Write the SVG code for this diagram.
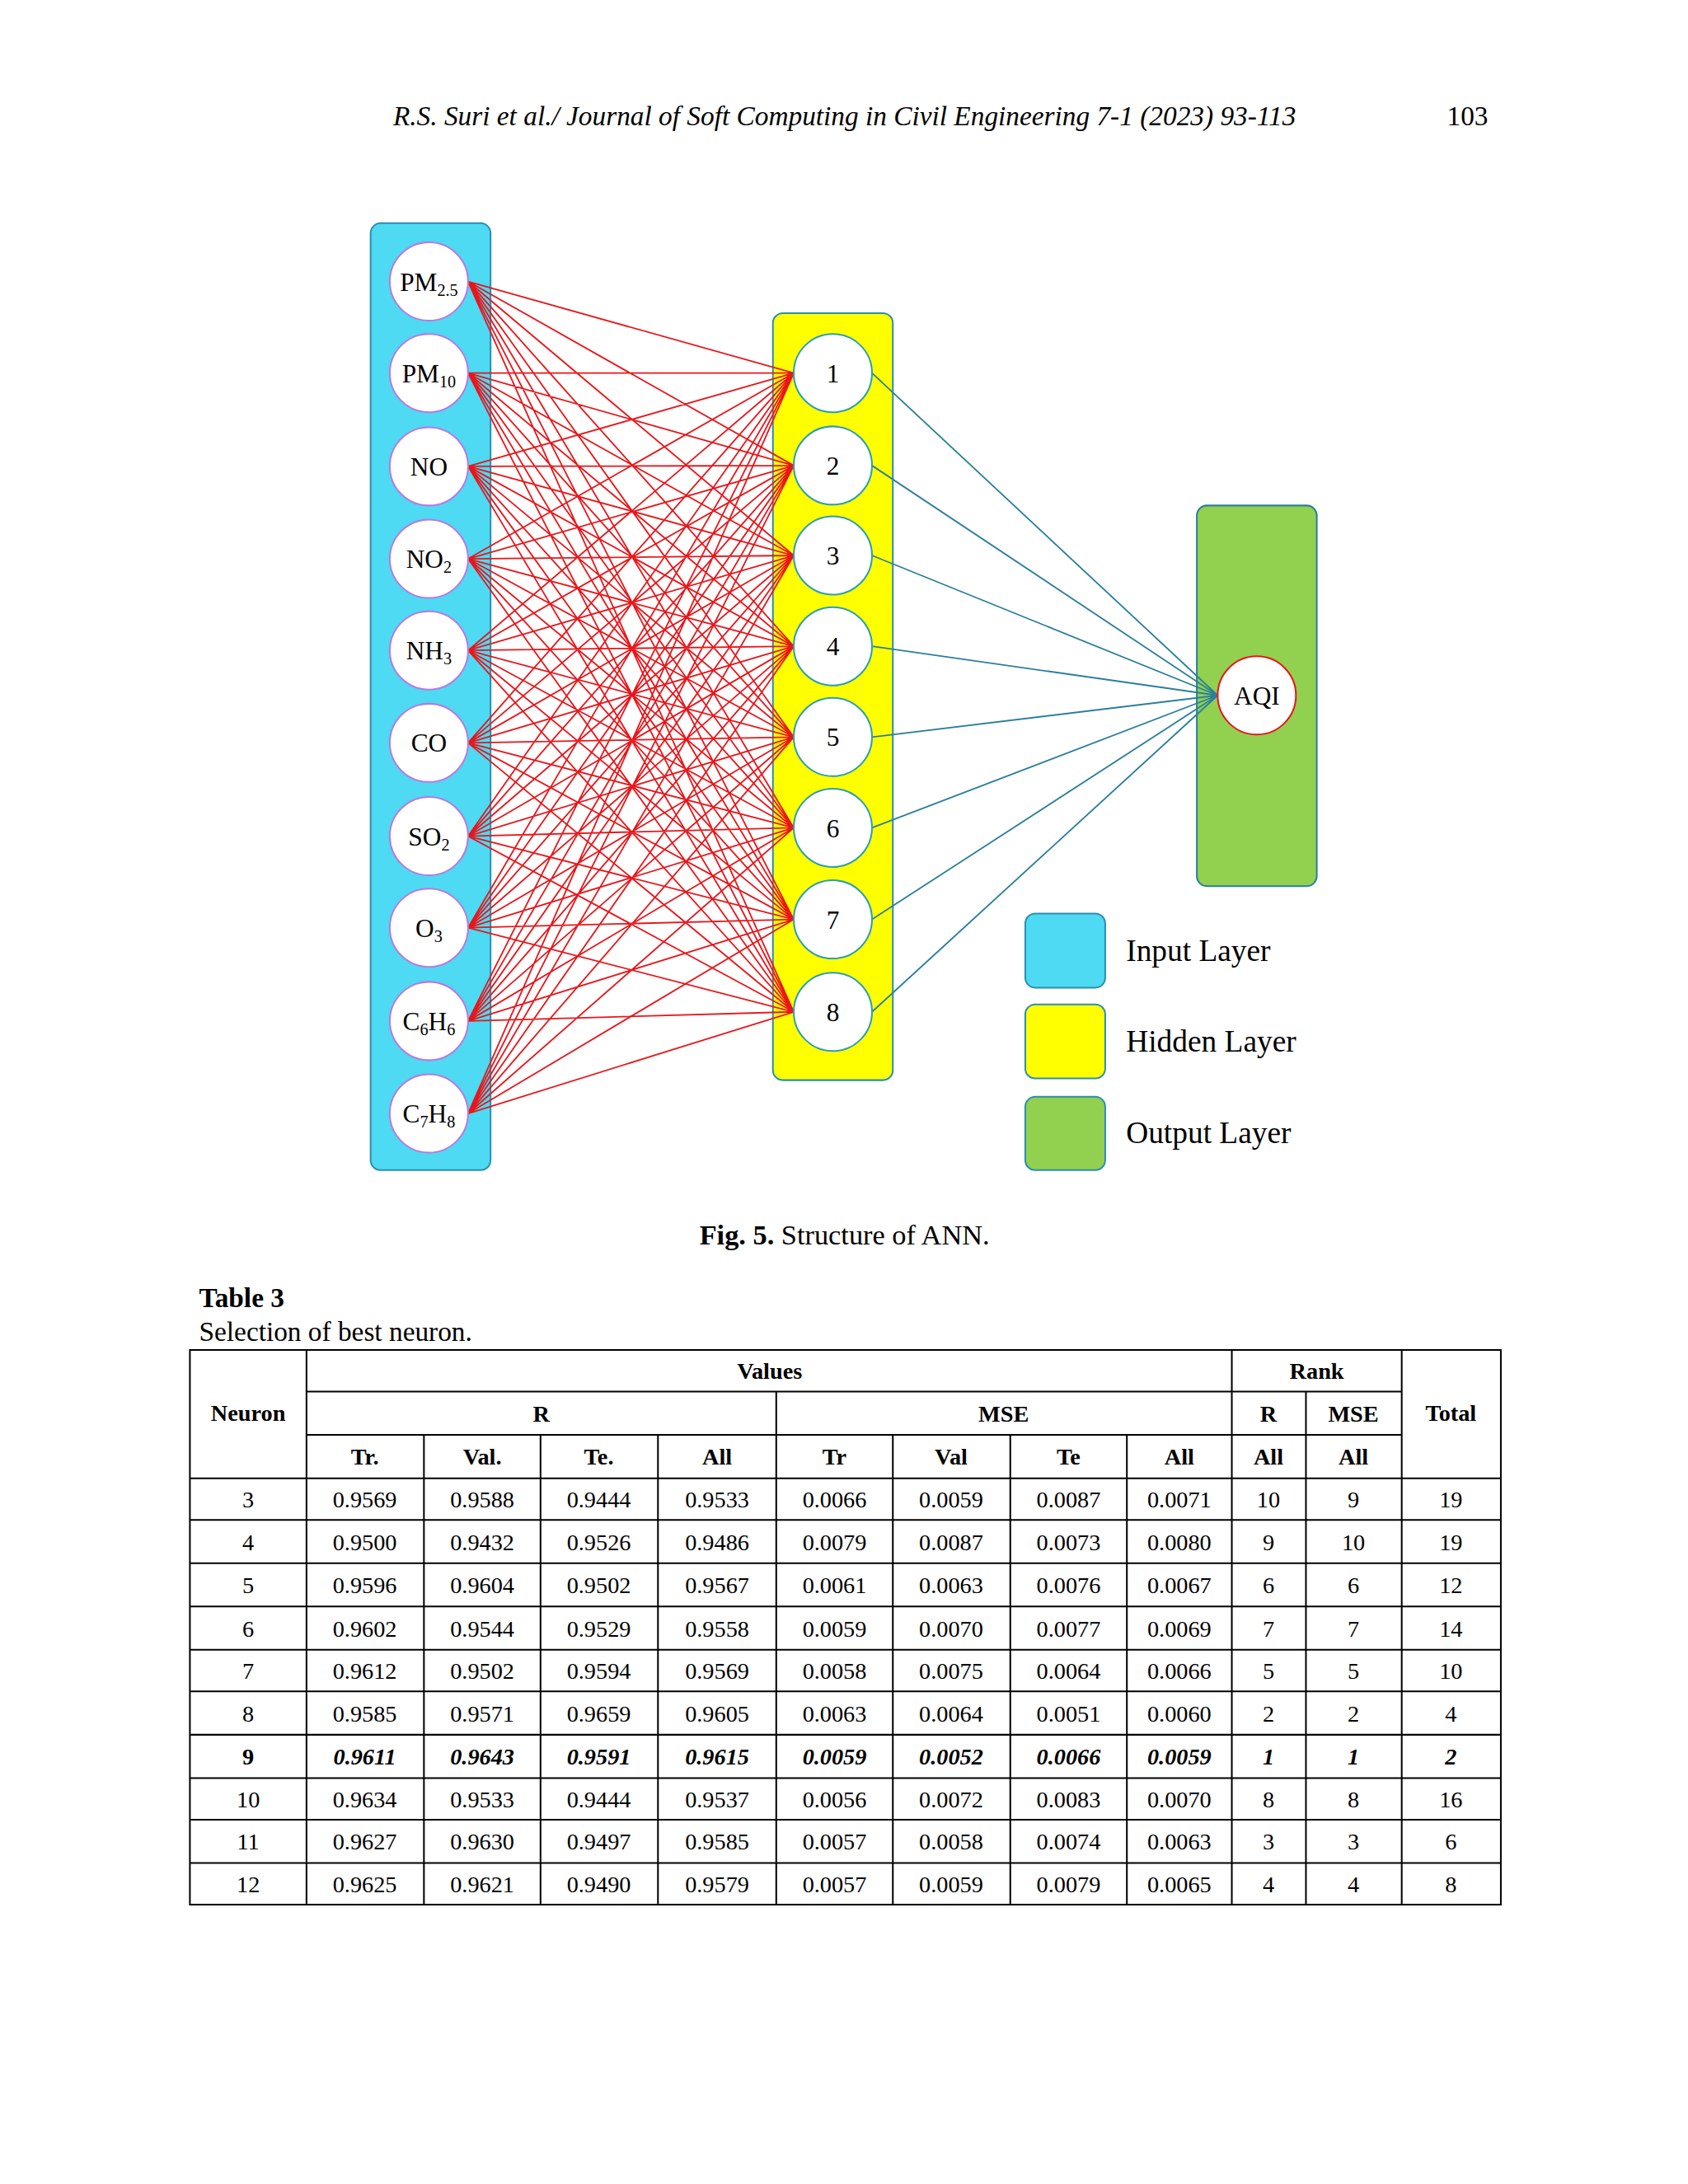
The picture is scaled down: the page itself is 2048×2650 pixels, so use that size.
<svg xmlns="http://www.w3.org/2000/svg" width="2048" height="2650" viewBox="0 0 2048 2650">
<style>
text{font-family:"Liberation Serif","Times New Roman",serif;fill:#000}
.n{font-size:31px;text-anchor:middle}
.s{font-size:20px}
.ic{fill:#fff;stroke:#b77be0;stroke-width:2}
.hc{fill:#fff;stroke:#2a9fb0;stroke-width:2}
.red{stroke:#e8161b;stroke-width:1.8;fill:none}
.teal{stroke:#2a7f9a;stroke-width:1.8;fill:none}
.t{font-size:28px;text-anchor:middle}
.b{font-weight:bold}
.bi{font-weight:bold;font-style:italic}
.g{stroke:#000;stroke-width:2}
</style>
<rect width="2048" height="2650" fill="#fff"/>
<g transform="scale(1.0105)">
<text x="1014" y="150" font-size="33" font-style="italic" text-anchor="middle">R.S. Suri et al./ Journal of Soft Computing in Civil Engineering 7-1 (2023) 93-113</text>
<text x="1762" y="150" font-size="33" text-anchor="middle">103</text>

<g id="input-layer"><rect x="445" y="268" width="144" height="1137" rx="12" fill="#4ddaf2" stroke="#2a8fb0" stroke-width="2"/></g>
<g id="hidden-layer"><rect x="928" y="376" width="144" height="921" rx="12" fill="#ffff00" stroke="#2a8fb0" stroke-width="2"/></g>
<g id="output-layer"><rect x="1437" y="607" width="144" height="457" rx="12" fill="#92d050" stroke="#2a7f9a" stroke-width="2"/></g>

<g id="connectors">
<path class="red" d="
M562 338L953 448M562 338L953 559M562 338L953 667M562 338L953 776M562 338L953 885M562 338L953 994M562 338L953 1104M562 338L953 1215
M562 448L953 448M562 448L953 559M562 448L953 667M562 448L953 776M562 448L953 885M562 448L953 994M562 448L953 1104M562 448L953 1215
M562 560L953 448M562 560L953 559M562 560L953 667M562 560L953 776M562 560L953 885M562 560L953 994M562 560L953 1104M562 560L953 1215
M562 671L953 448M562 671L953 559M562 671L953 667M562 671L953 776M562 671L953 885M562 671L953 994M562 671L953 1104M562 671L953 1215
M562 781L953 448M562 781L953 559M562 781L953 667M562 781L953 776M562 781L953 885M562 781L953 994M562 781L953 1104M562 781L953 1215
M562 892L953 448M562 892L953 559M562 892L953 667M562 892L953 776M562 892L953 885M562 892L953 994M562 892L953 1104M562 892L953 1215
M562 1004L953 448M562 1004L953 559M562 1004L953 667M562 1004L953 776M562 1004L953 885M562 1004L953 994M562 1004L953 1104M562 1004L953 1215
M562 1114L953 448M562 1114L953 559M562 1114L953 667M562 1114L953 776M562 1114L953 885M562 1114L953 994M562 1114L953 1104M562 1114L953 1215
M562 1226L953 448M562 1226L953 559M562 1226L953 667M562 1226L953 776M562 1226L953 885M562 1226L953 994M562 1226L953 1104M562 1226L953 1215
M562 1337L953 448M562 1337L953 559M562 1337L953 667M562 1337L953 776M562 1337L953 885M562 1337L953 994M562 1337L953 1104M562 1337L953 1215"/>
<path class="teal" d="M1047 448L1462 835M1047 559L1462 835M1047 667L1462 835M1047 776L1462 835M1047 885L1462 835M1047 994L1462 835M1047 1104L1462 835M1047 1215L1462 835"/>
</g>

<g id="in-pm25"><circle class="ic" cx="515" cy="338" r="47"/><text class="n" x="515" y="349">PM<tspan class="s" dy="6">2.5</tspan></text></g>
<g id="in-pm10"><circle class="ic" cx="515" cy="448" r="47"/><text class="n" x="515" y="459">PM<tspan class="s" dy="6">10</tspan></text></g>
<g id="in-no"><circle class="ic" cx="515" cy="560" r="47"/><text class="n" x="515" y="571">NO</text></g>
<g id="in-no2"><circle class="ic" cx="515" cy="671" r="47"/><text class="n" x="515" y="682">NO<tspan class="s" dy="6">2</tspan></text></g>
<g id="in-nh3"><circle class="ic" cx="515" cy="781" r="47"/><text class="n" x="515" y="792">NH<tspan class="s" dy="6">3</tspan></text></g>
<g id="in-co"><circle class="ic" cx="515" cy="892" r="47"/><text class="n" x="515" y="903">CO</text></g>
<g id="in-so2"><circle class="ic" cx="515" cy="1004" r="47"/><text class="n" x="515" y="1015">SO<tspan class="s" dy="6">2</tspan></text></g>
<g id="in-o3"><circle class="ic" cx="515" cy="1114" r="47"/><text class="n" x="515" y="1125">O<tspan class="s" dy="6">3</tspan></text></g>
<g id="in-c6h6"><circle class="ic" cx="515" cy="1226" r="47"/><text class="n" x="515" y="1237">C<tspan class="s" dy="6">6</tspan><tspan dy="-6">H</tspan><tspan class="s" dy="6">6</tspan></text></g>
<g id="in-c7h8"><circle class="ic" cx="515" cy="1337" r="47"/><text class="n" x="515" y="1348">C<tspan class="s" dy="6">7</tspan><tspan dy="-6">H</tspan><tspan class="s" dy="6">8</tspan></text></g>

<g id="h1"><circle class="hc" cx="1000" cy="448" r="47"/><text class="n" x="1000" y="459">1</text></g>
<g id="h2"><circle class="hc" cx="1000" cy="559" r="47"/><text class="n" x="1000" y="570">2</text></g>
<g id="h3"><circle class="hc" cx="1000" cy="667" r="47"/><text class="n" x="1000" y="678">3</text></g>
<g id="h4"><circle class="hc" cx="1000" cy="776" r="47"/><text class="n" x="1000" y="787">4</text></g>
<g id="h5"><circle class="hc" cx="1000" cy="885" r="47"/><text class="n" x="1000" y="896">5</text></g>
<g id="h6"><circle class="hc" cx="1000" cy="994" r="47"/><text class="n" x="1000" y="1005">6</text></g>
<g id="h7"><circle class="hc" cx="1000" cy="1104" r="47"/><text class="n" x="1000" y="1115">7</text></g>
<g id="h8"><circle class="hc" cx="1000" cy="1215" r="47"/><text class="n" x="1000" y="1226">8</text></g>

<g id="out-aqi"><circle cx="1509" cy="835" r="47" fill="#fff" stroke="#e8161b" stroke-width="2"/><text class="n" x="1509" y="846">AQI</text></g>

<g id="legend">
<rect x="1231" y="1097" width="96" height="89" rx="12" fill="#4ddaf2" stroke="#2a8fb0" stroke-width="2"/>
<rect x="1231" y="1206" width="96" height="89" rx="12" fill="#ffff00" stroke="#2a8fb0" stroke-width="2"/>
<rect x="1231" y="1317" width="96" height="88" rx="12" fill="#92d050" stroke="#2a8fb0" stroke-width="2"/>
<text x="1352" y="1154" font-size="37">Input Layer</text>
<text x="1352" y="1263" font-size="37">Hidden Layer</text>
<text x="1352" y="1373" font-size="37">Output Layer</text>
</g>

<text x="1014" y="1494" font-size="34" text-anchor="middle"><tspan font-weight="bold">Fig. 5.</tspan> Structure of ANN.</text>
<text x="239" y="1570" font-size="33" font-weight="bold">Table 3</text>
<text x="239" y="1610" font-size="33">Selection of best neuron.</text>

<g id="table">
<rect x="228" y="1621" width="1574" height="666" fill="none" class="g"/>
<path class="g" d="M368 1671H1683M368 1723H1683M228 1775H1802M228 1825H1802M228 1877H1802M228 1929H1802M228 1981H1802M228 2031H1802M228 2083H1802M228 2135H1802M228 2185H1802M228 2237H1802
M368 1621V2287M1479 1621V2287M1683 1621V2287M932 1671V2287M509 1723V2287M649 1723V2287M790 1723V2287M1072 1723V2287M1213 1723V2287M1353 1723V2287M1568 1671V2287"/>
<g class="t b">
<text x="298" y="1706">Neuron</text><text x="924" y="1656">Values</text><text x="1581" y="1656">Rank</text><text x="1742" y="1706">Total</text>
<text x="650" y="1707">R</text><text x="1205" y="1707">MSE</text><text x="1523" y="1707">R</text><text x="1625" y="1707">MSE</text>
<text x="438" y="1759">Tr.</text><text x="579" y="1759">Val.</text><text x="719" y="1759">Te.</text><text x="861" y="1759">All</text>
<text x="1002" y="1759">Tr</text><text x="1142" y="1759">Val</text><text x="1283" y="1759">Te</text><text x="1416" y="1759">All</text>
<text x="1523" y="1759">All</text><text x="1625" y="1759">All</text>
</g>
<g class="t">
<text y="1810"><tspan x="298">3</tspan><tspan x="438">0.9569</tspan><tspan x="579">0.9588</tspan><tspan x="719">0.9444</tspan><tspan x="861">0.9533</tspan><tspan x="1002">0.0066</tspan><tspan x="1142">0.0059</tspan><tspan x="1283">0.0087</tspan><tspan x="1416">0.0071</tspan><tspan x="1523">10</tspan><tspan x="1625">9</tspan><tspan x="1742">19</tspan></text>
<text y="1861"><tspan x="298">4</tspan><tspan x="438">0.9500</tspan><tspan x="579">0.9432</tspan><tspan x="719">0.9526</tspan><tspan x="861">0.9486</tspan><tspan x="1002">0.0079</tspan><tspan x="1142">0.0087</tspan><tspan x="1283">0.0073</tspan><tspan x="1416">0.0080</tspan><tspan x="1523">9</tspan><tspan x="1625">10</tspan><tspan x="1742">19</tspan></text>
<text y="1913"><tspan x="298">5</tspan><tspan x="438">0.9596</tspan><tspan x="579">0.9604</tspan><tspan x="719">0.9502</tspan><tspan x="861">0.9567</tspan><tspan x="1002">0.0061</tspan><tspan x="1142">0.0063</tspan><tspan x="1283">0.0076</tspan><tspan x="1416">0.0067</tspan><tspan x="1523">6</tspan><tspan x="1625">6</tspan><tspan x="1742">12</tspan></text>
<text y="1965"><tspan x="298">6</tspan><tspan x="438">0.9602</tspan><tspan x="579">0.9544</tspan><tspan x="719">0.9529</tspan><tspan x="861">0.9558</tspan><tspan x="1002">0.0059</tspan><tspan x="1142">0.0070</tspan><tspan x="1283">0.0077</tspan><tspan x="1416">0.0069</tspan><tspan x="1523">7</tspan><tspan x="1625">7</tspan><tspan x="1742">14</tspan></text>
<text y="2016"><tspan x="298">7</tspan><tspan x="438">0.9612</tspan><tspan x="579">0.9502</tspan><tspan x="719">0.9594</tspan><tspan x="861">0.9569</tspan><tspan x="1002">0.0058</tspan><tspan x="1142">0.0075</tspan><tspan x="1283">0.0064</tspan><tspan x="1416">0.0066</tspan><tspan x="1523">5</tspan><tspan x="1625">5</tspan><tspan x="1742">10</tspan></text>
<text y="2067"><tspan x="298">8</tspan><tspan x="438">0.9585</tspan><tspan x="579">0.9571</tspan><tspan x="719">0.9659</tspan><tspan x="861">0.9605</tspan><tspan x="1002">0.0063</tspan><tspan x="1142">0.0064</tspan><tspan x="1283">0.0051</tspan><tspan x="1416">0.0060</tspan><tspan x="1523">2</tspan><tspan x="1625">2</tspan><tspan x="1742">4</tspan></text>
<text y="2119" class="bi"><tspan x="298" font-style="normal">9</tspan><tspan x="438">0.9611</tspan><tspan x="579">0.9643</tspan><tspan x="719">0.9591</tspan><tspan x="861">0.9615</tspan><tspan x="1002">0.0059</tspan><tspan x="1142">0.0052</tspan><tspan x="1283">0.0066</tspan><tspan x="1416">0.0059</tspan><tspan x="1523">1</tspan><tspan x="1625">1</tspan><tspan x="1742">2</tspan></text>
<text y="2170"><tspan x="298">10</tspan><tspan x="438">0.9634</tspan><tspan x="579">0.9533</tspan><tspan x="719">0.9444</tspan><tspan x="861">0.9537</tspan><tspan x="1002">0.0056</tspan><tspan x="1142">0.0072</tspan><tspan x="1283">0.0083</tspan><tspan x="1416">0.0070</tspan><tspan x="1523">8</tspan><tspan x="1625">8</tspan><tspan x="1742">16</tspan></text>
<text y="2221"><tspan x="298">11</tspan><tspan x="438">0.9627</tspan><tspan x="579">0.9630</tspan><tspan x="719">0.9497</tspan><tspan x="861">0.9585</tspan><tspan x="1002">0.0057</tspan><tspan x="1142">0.0058</tspan><tspan x="1283">0.0074</tspan><tspan x="1416">0.0063</tspan><tspan x="1523">3</tspan><tspan x="1625">3</tspan><tspan x="1742">6</tspan></text>
<text y="2272"><tspan x="298">12</tspan><tspan x="438">0.9625</tspan><tspan x="579">0.9621</tspan><tspan x="719">0.9490</tspan><tspan x="861">0.9579</tspan><tspan x="1002">0.0057</tspan><tspan x="1142">0.0059</tspan><tspan x="1283">0.0079</tspan><tspan x="1416">0.0065</tspan><tspan x="1523">4</tspan><tspan x="1625">4</tspan><tspan x="1742">8</tspan></text>
</g>
</g>
</g>
</svg>
